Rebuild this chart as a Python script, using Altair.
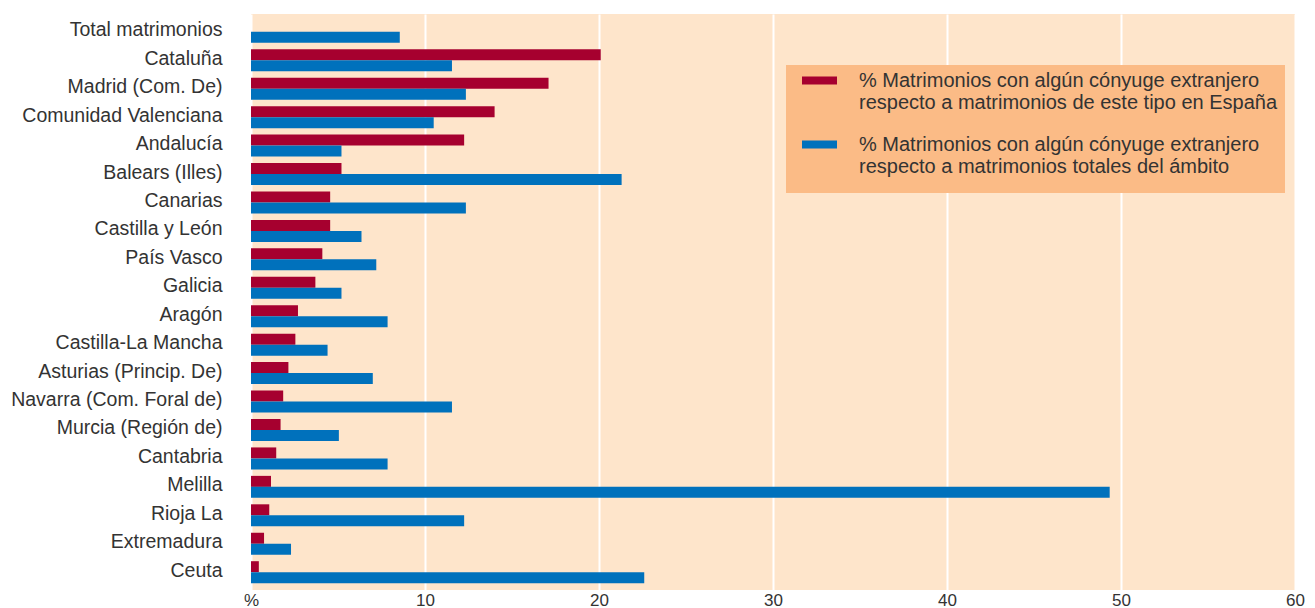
import altair as alt
import pandas as pd

regions = [
    "Total matrimonios", "Cataluña", "Madrid (Com. De)", "Comunidad Valenciana",
    "Andalucía", "Balears (Illes)", "Canarias", "Castilla y León", "País Vasco",
    "Galicia", "Aragón", "Castilla-La Mancha", "Asturias (Princip. De)",
    "Navarra (Com. Foral de)", "Murcia (Región de)", "Cantabria", "Melilla",
    "Rioja La", "Extremadura", "Ceuta",
]
# % respecto a matrimonios de este tipo en España (no value for the total)
pct_spain = [None, 20.1, 17.1, 14.0, 12.25, 5.2, 4.55, 4.55, 4.1, 3.7,
             2.7, 2.55, 2.15, 1.85, 1.7, 1.45, 1.15, 1.05, 0.75, 0.45]
# % respecto a matrimonios totales del ámbito
pct_ambito = [8.55, 11.55, 12.35, 10.5, 5.2, 21.3, 12.35, 6.35, 7.2, 5.2,
              7.85, 4.4, 7.0, 11.55, 5.05, 7.85, 49.35, 12.25, 2.3, 22.6]

s1 = "% Matrimonios con algún cónyuge extranjero respecto a matrimonios de este tipo en España"
s2 = "% Matrimonios con algún cónyuge extranjero respecto a matrimonios totales del ámbito"
series = [s1, s2]
colors = ["#A6002F", "#0071BC"]
x_ticks = [0, 10, 20, 30, 40, 50, 60]

rows = []
for r, a, b in zip(regions, pct_spain, pct_ambito):
    if a is not None:
        rows.append({"region": r, "serie": s1, "value": a})
    rows.append({"region": r, "serie": s2, "value": b})
df = pd.DataFrame(rows)

FONT = "Liberation Sans"
TXT = "#333333"
LEGEND_BG = "#FBBB86"

bars = alt.Chart(df).mark_bar().encode(
    y=alt.Y("region:N", sort=regions,
            scale=alt.Scale(paddingInner=0.227, paddingOuter=0.24),
            axis=alt.Axis(title=None, ticks=False, domain=False, labelPadding=29,
                          labelFontSize=19.5, labelColor=TXT, labelFont=FONT,
                          labelOffset=-1.5, labelLimit=300)),
    yOffset=alt.YOffset("serie:N", sort=series, scale=alt.Scale(paddingInner=0, paddingOuter=0)),
    x=alt.X("value:Q", scale=alt.Scale(domain=[0, 60], nice=False),
            axis=alt.Axis(title=None, values=x_ticks,
                          labelExpr="datum.value == 0 ? '%' : datum.label",
                          grid=True, gridColor="white", gridWidth=2, domain=False,
                          ticks=False, labelPadding=2, labelFontSize=17,
                          labelColor=TXT, labelFont=FONT, labelFlush=False)),
    color=alt.Color("serie:N", sort=series,
                    scale=alt.Scale(domain=series, range=colors),
                    legend=alt.Legend(
                        title=None, orient="none", legendX=551, legendY=49,
                        padding=0,
                        symbolType="M-1,-0.23H1V0.23H-1Z", symbolSize=1225,
                        symbolStrokeWidth=0, labelOffset=22, labelFontSize=20,
                        labelFont=FONT, labelColor=TXT, labelLimit=600,
                        rowPadding=14,
                        labelExpr="[substring(datum.label, 0, indexof(datum.label, ' respecto')), substring(datum.label, indexof(datum.label, ' respecto') + 1)]",
                    )),
)

# background panel of the legend
legend_box = alt.Chart(pd.DataFrame({"k": [0]})).mark_rect(color=LEGEND_BG).encode(
    x=alt.value(535), x2=alt.value(1034), y=alt.value(51), y2=alt.value(179)
)

chart = alt.layer(bars, legend_box).properties(
    width=1044, height=576,
    autosize=alt.AutoSizeParams(type="none"),
    padding={"left": 243, "top": 6, "right": 12, "bottom": 18},
).configure_view(
    fill="#FEE5CB", stroke=None
)

chart.save("out.html", embed_options={"renderer": "svg", "actions": False})
